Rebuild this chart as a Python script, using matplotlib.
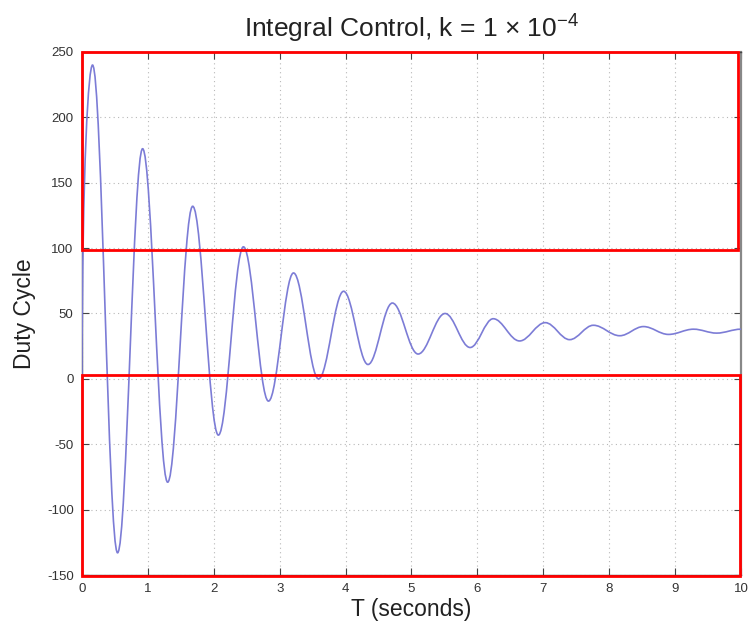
import matplotlib
matplotlib.use("Agg")
import matplotlib.pyplot as plt
from matplotlib.path import Path
from matplotlib.patches import PathPatch, Rectangle

plt.rcParams['font.family'] = ['Liberation Sans', 'DejaVu Sans']
plt.rcParams['mathtext.fontset'] = 'custom'
plt.rcParams['mathtext.rm'] = 'Liberation Sans'
plt.rcParams['mathtext.it'] = 'Liberation Sans:italic'
plt.rcParams['axes.unicode_minus'] = False

# turning points of the response (seconds, duty cycle)
t_pts = [0, 0.16, 0.54, 0.92, 1.30, 1.68, 2.07, 2.45, 2.83, 3.21, 3.59, 3.97, 4.34,
         4.71, 5.10, 5.51, 5.89, 6.24, 6.64, 7.03, 7.40, 7.76, 8.16, 8.52, 8.90,
         9.28, 9.63, 10.0]
duty = [0, 240, -133, 176, -79, 132, -43, 101, -17, 81, 0, 67, 11,
        58, 19, 50, 24, 46, 29, 43, 30, 41, 33, 40, 34,
        38, 35, 38]

x_ticks = [0, 1, 2, 3, 4, 5, 6, 7, 8, 9, 10]
y_ticks = [-150, -100, -50, 0, 50, 100, 150, 200, 250]

# highlighted regions (red boxes), data coords: x0, x1, y0, y1
box_top = [0, 9.95, 98.5, 250]
box_bottom = [0, 9.98, -150.5, 3]

fig = plt.figure(figsize=(7.5, 6.24), dpi=100)
ax = fig.add_axes([0.1093, 0.0785, 0.8787, 0.8382])

# smooth curve through the turning points, flat tangent at each extremum
verts = [(t_pts[0], duty[0])]
codes = [Path.MOVETO]
for i in range(1, len(t_pts)):
    t0, v0 = t_pts[i - 1], duty[i - 1]
    t1, v1 = t_pts[i], duty[i]
    dt = t1 - t0
    if i == 1:
        c1 = (t0 + 0.005, v0 + 0.7 * (v1 - v0))
    else:
        c1 = (t0 + 0.364 * dt, v0)
    c2 = (t1 - 0.364 * dt, v1)
    verts += [c1, c2, (t1, v1)]
    codes += [Path.CURVE4] * 3
ax.add_patch(PathPatch(Path(verts, codes), fill=False, edgecolor='#7c7cd6', lw=1.2, zorder=3))

ax.set_xlim(0, 10)
ax.set_ylim(-150, 250)
ax.set_xticks(x_ticks)
ax.set_yticks(y_ticks)
ax.grid(True, color='#b8b8b8', linestyle=(0, (1, 3)), linewidth=0.8)
ax.tick_params(direction='in', top=True, right=True, length=5, labelsize=9.5,
               labelcolor='#333333', color='#444444', pad=6)
for s in ax.spines.values():
    s.set_color('#444444')
    s.set_linewidth(1.0)
ax.spines['right'].set_color('#888888')
ax.spines['right'].set_linewidth(1.6)

ax.set_title(r'Integral Control, k = 1 $\times$ 10$^{-4}$', fontsize=19, color='#222222', pad=10)
ax.set_xlabel('T (seconds)', fontsize=16.5, color='#222222', labelpad=2)
ax.set_ylabel('Duty Cycle', fontsize=16.5, color='#222222', labelpad=8)

for b in (box_top, box_bottom):
    ax.add_patch(Rectangle((b[0], b[2]), b[1] - b[0], b[3] - b[2], fill=False,
                           edgecolor='red', lw=2, clip_on=False, zorder=5))

fig.savefig('out.png', dpi=100)
